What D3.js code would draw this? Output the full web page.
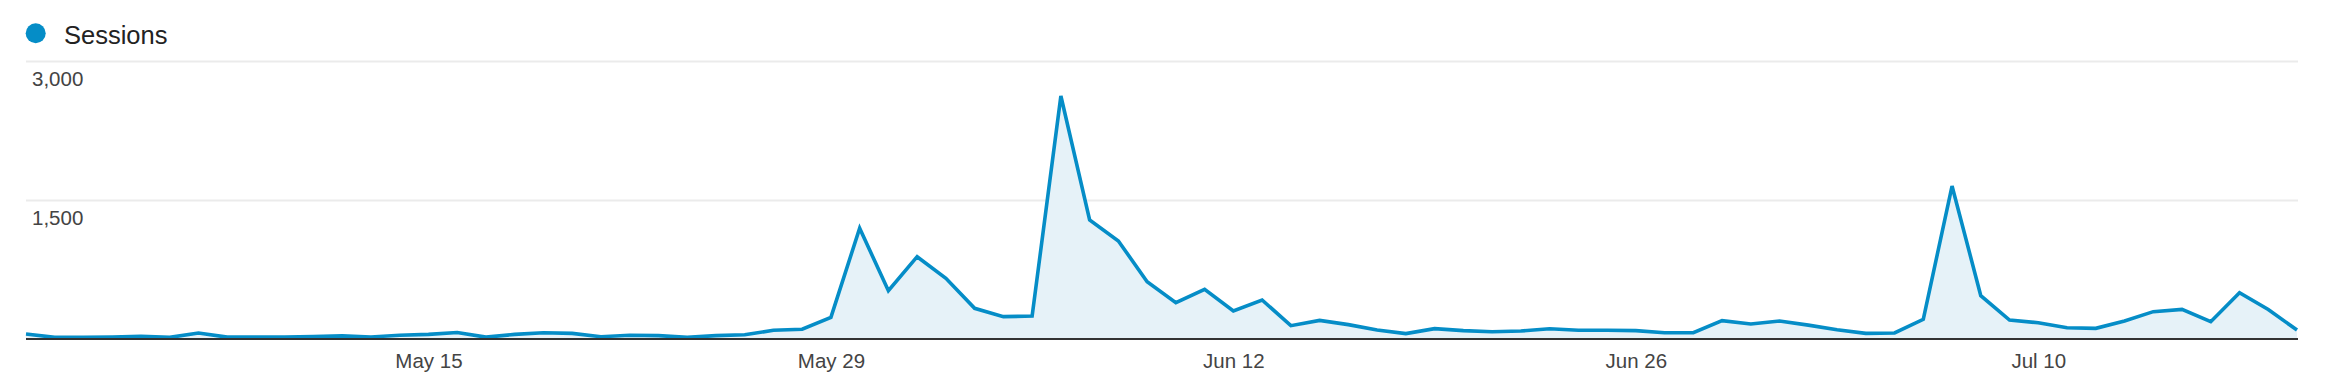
<!DOCTYPE html>
<html>
<head>
<meta charset="utf-8">
<script src="https://cdn.jsdelivr.net/npm/d3@7"></script>
<style>
  html, body { margin: 0; padding: 0; background: #fff; }
  svg { display: block; }
</style>
</head>
<body>
<div id="chart"></div>
<script>
// daily sessions, May 1 -> Jul 19
const startDate = new Date(2019, 4, 1);
const sessions = [
  54, 18, 18, 22, 30, 18, 65, 20, 20, 22,
  27, 34, 22, 40, 50, 70, 20, 50, 68, 61,
  25, 40, 36, 18, 36, 46, 94, 105, 234, 1195,
  521, 888, 655, 331, 241, 248, 2622, 1284, 1058, 618,
  392, 536, 302, 421, 144, 201, 155, 97, 58, 112,
  90, 79, 86, 111, 94, 94, 90, 68, 68, 198,
  162, 194, 150, 100, 61, 65, 212, 1651, 468, 205,
  175, 122, 115, 194, 295, 320, 187, 500, 318, 97
];
const seriesName = 'Sessions';
const yTicks = [1500, 3000];
const xTickLabels = ['May 15', 'May 29', 'Jun 12', 'Jun 26', 'Jul 10'];

const W = 2326, H = 378;
const m = { left: 26, right: 2297, top: 61, bottom: 339 };
const BLUE = '#058dc7';
const FONT = 'Arial, "Liberation Sans", sans-serif';

const data = sessions.map((v, i) => ({ date: d3.timeDay.offset(startDate, i), value: v }));
const parseTick = d3.timeParse('%b %d %Y');
const xTickDates = xTickLabels.map(s => parseTick(`${s} ${startDate.getFullYear()}`));

const svg = d3.select('#chart').append('svg')
  .attr('width', W).attr('height', H);

const x = d3.scaleTime().domain(d3.extent(data, d => d.date)).range([m.left, m.right]);
const y = d3.scaleLinear().domain([0, 3000]).range([m.bottom, m.top]);

// gridlines + y labels
svg.append('g')
  .attr('transform', `translate(${m.left},0)`)
  .call(d3.axisRight(y).tickValues(yTicks).tickSize(m.right + 1 - m.left).tickFormat(d3.format(',')))
  .call(g => g.select('.domain').remove())
  .call(g => g.selectAll('.tick line').attr('stroke', '#ebebeb').attr('stroke-width', 2))
  .call(g => g.selectAll('.tick text')
    .attr('x', 6).attr('dy', 0).attr('y', 24.5)
    .attr('fill', '#444').attr('font-size', '20.5px').attr('font-family', FONT)
    .attr('text-anchor', 'start'));

const area = d3.area().x(d => x(d.date)).y0(y(0)).y1(d => y(d.value));
const line = d3.line().x(d => x(d.date)).y(d => y(d.value));

svg.append('path').datum(data)
  .attr('fill', '#e6f2f8').attr('d', area);

svg.append('path').datum(data)
  .attr('fill', 'none').attr('stroke', BLUE).attr('stroke-width', 3.6)
  .attr('stroke-linejoin', 'miter').attr('d', line);

// x axis baseline + date labels
svg.append('g')
  .attr('transform', `translate(0,${m.bottom})`)
  .call(d3.axisBottom(x).tickValues(xTickDates).tickSize(0).tickFormat((d, i) => xTickLabels[i]))
  .call(g => g.select('.domain').attr('stroke', '#333').attr('stroke-width', 2)
    .attr('d', `M${m.left},0H${m.right + 1}`))
  .call(g => g.selectAll('.tick text')
    .attr('dy', 0).attr('y', 28.5)
    .attr('fill', '#444').attr('font-size', '20.5px').attr('font-family', FONT));

// legend
const legend = svg.append('g');
legend.append('circle').attr('cx', 35.7).attr('cy', 33.3).attr('r', 10).attr('fill', BLUE);
legend.append('text').attr('x', 64).attr('y', 43.5)
  .attr('fill', '#222').attr('font-size', '25.5px').attr('font-family', FONT)
  .text(seriesName);
</script>
</body>
</html>
